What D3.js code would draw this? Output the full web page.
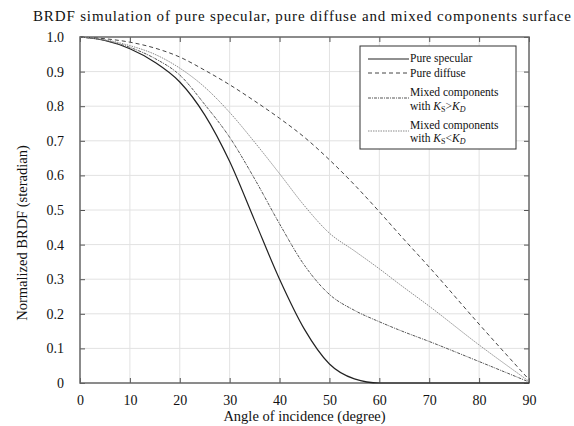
<!DOCTYPE html>
<html lang="en">
<head>
    <meta charset="UTF-8">
    <title>BRDF simulation</title>
    <script src="https://d3js.org/d3.v7.min.js"></script>
    <style>
        body { margin: 0; background: #fff; }
        svg text { font-family: "Liberation Serif", "Times New Roman", serif; fill: #111; }
        .legend text { font-size: 11.5px; }
    </style>
</head>
<body>
    <svg id="chart" width="574" height="426"></svg>
    <script>
        // angle of incidence (degree)
        const angles = [0, 5, 10, 15, 20, 25, 30, 35, 40, 45, 50, 55, 60, 64, 70, 80, 90];

        const pureSpecular = [1.0, 0.99, 0.966, 0.927, 0.87, 0.775, 0.64, 0.47, 0.30, 0.155, 0.055, 0.012, 0, 0, 0, 0, 0];
        const pureDiffuse  = [1.0, 0.995, 0.985, 0.968, 0.942, 0.904, 0.862, 0.815, 0.765, 0.71, 0.645, 0.573, 0.495, 0.43, 0.335, 0.17, 0.01];
        const mixedSgtD    = [1.0, 0.99, 0.97, 0.938, 0.89, 0.805, 0.71, 0.59, 0.46, 0.34, 0.256, 0.21, 0.177, 0.153, 0.12, 0.062, 0.003];
        const mixedSltD    = [1.0, 0.992, 0.975, 0.95, 0.91, 0.855, 0.782, 0.696, 0.605, 0.512, 0.433, 0.382, 0.33, 0.286, 0.222, 0.11, 0.005];

        const xTicks = [0, 10, 20, 30, 40, 50, 60, 70, 80, 90];
        const xTickLabels = ["0", "10", "20", "30", "40", "50", "60", "70", "80", "90"];
        const yTicks = [0, 0.1, 0.2, 0.3, 0.4, 0.5, 0.6, 0.7, 0.8, 0.9, 1.0];
        const yTickLabels = ["0", "0.1", "0.2", "0.3", "0.4", "0.5", "0.6", "0.7", "0.8", "0.9", "1.0"];

        const series = [
            { name: "Pure specular", values: pureSpecular, color: "#222", width: 1.2, dash: null },
            { name: "Pure diffuse", values: pureDiffuse, color: "#444", width: 1, dash: "4,3" },
            { name: "Mixed components", sub: ">", values: mixedSgtD, color: "#555", width: 1, dash: "3,1,1,1" },
            { name: "Mixed components", sub: "<", values: mixedSltD, color: "#8a8a8a", width: 1, dash: "1.5,1" }
        ];

        const margin = { top: 37, right: 45, bottom: 43, left: 80 };
        const width = 574 - margin.left - margin.right;
        const height = 426 - margin.top - margin.bottom;

        const svg = d3.select("#chart");
        const g = svg.append("g").attr("transform", `translate(${margin.left},${margin.top})`);

        const x = d3.scaleLinear().domain([0, 90]).range([0, width]);
        const y = d3.scaleLinear().domain([0, 1]).range([height, 0]);

        // grid
        g.append("g").selectAll("line").data(xTicks.slice(1, -1)).join("line")
            .attr("x1", d => x(d)).attr("x2", d => x(d))
            .attr("y1", 0).attr("y2", height)
            .attr("stroke", "#e2e2e2").attr("stroke-width", 1);
        g.append("g").selectAll("line").data(yTicks.slice(1, -1)).join("line")
            .attr("x1", 0).attr("x2", width)
            .attr("y1", d => y(d)).attr("y2", d => y(d))
            .attr("stroke", "#e2e2e2").attr("stroke-width", 1);

        // axes with inward ticks on all sides
        const fmtX = (d, i) => xTickLabels[i];
        const fmtY = (d, i) => yTickLabels[i];
        g.append("g").attr("transform", `translate(0,${height})`)
            .call(d3.axisBottom(x).tickValues(xTicks).tickFormat(fmtX).tickSizeInner(-5).tickSizeOuter(0).tickPadding(12));
        g.append("g")
            .call(d3.axisLeft(y).tickValues(yTicks).tickFormat(fmtY).tickSizeInner(-5).tickSizeOuter(0).tickPadding(16));
        g.append("g").call(d3.axisTop(x).tickValues(xTicks).tickFormat("").tickSizeInner(-5).tickSizeOuter(0));
        g.append("g").attr("transform", `translate(${width},0)`)
            .call(d3.axisRight(y).tickValues(yTicks).tickFormat("").tickSizeInner(-5).tickSizeOuter(0));
        g.selectAll(".domain").remove();
        g.selectAll(".tick line").attr("stroke", "#555");
        g.selectAll(".tick text").attr("fill", "#111")
            .style("font-family", "Liberation Serif, serif").style("font-size", "14px");

        // frame
        g.append("rect").attr("x", 0).attr("y", 0).attr("width", width).attr("height", height)
            .attr("fill", "none").attr("stroke", "#666").attr("stroke-width", 1.5);

        // curves
        const line = d3.line()
            .x((d, i) => x(angles[i]))
            .y(d => y(d))
            .curve(d3.curveMonotoneX);

        series.forEach(s => {
            g.append("path")
                .datum(s.values)
                .attr("d", line)
                .attr("fill", "none")
                .attr("stroke", s.color)
                .attr("stroke-width", s.width)
                .attr("stroke-dasharray", s.dash);
        });

        // title and axis labels
        svg.append("text")
            .attr("x", 33).attr("y", 21)
            .attr("textLength", 538)
            .style("font-size", "15px")
            .text("BRDF simulation of pure specular, pure diffuse and mixed components surface");

        svg.append("text")
            .attr("x", margin.left + width / 2).attr("y", 421)
            .attr("text-anchor", "middle")
            .style("font-size", "14.5px")
            .text("Angle of incidence (degree)");

        svg.append("text")
            .attr("transform", "translate(27,233) rotate(-90)")
            .attr("text-anchor", "middle")
            .style("font-size", "14.5px")
            .text("Normalized BRDF (steradian)");

        // legend
        const legend = svg.append("g").attr("class", "legend");
        legend.append("rect")
            .attr("x", 360).attr("y", 46).attr("width", 156).attr("height", 103)
            .attr("fill", "#fff").attr("stroke", "#333").attr("stroke-width", 1);

        const rows = [
            { lineY: 59, textY: [62] },
            { lineY: 73, textY: [77] },
            { lineY: 98, textY: [96, 110] },
            { lineY: 131, textY: [129, 142] }
        ];

        series.forEach((s, i) => {
            const r = rows[i];
            legend.append("line")
                .attr("x1", 368).attr("x2", 409)
                .attr("y1", r.lineY).attr("y2", r.lineY)
                .attr("stroke", s.color).attr("stroke-width", s.width)
                .attr("stroke-dasharray", s.dash);
            legend.append("text").attr("x", 410).attr("y", r.textY[0]).text(s.name);
            if (s.sub) {
                const t = legend.append("text").attr("x", 410).attr("y", r.textY[1]);
                t.append("tspan").text("with ");
                t.append("tspan").style("font-style", "italic").text("K");
                t.append("tspan").attr("dy", 2).style("font-size", "8px").text("S");
                t.append("tspan").attr("dy", -2).text(s.sub);
                t.append("tspan").style("font-style", "italic").text("K");
                t.append("tspan").attr("dy", 2).style("font-size", "8px").style("font-style", "italic").text("D");
            }
        });
    </script>
</body>
</html>
